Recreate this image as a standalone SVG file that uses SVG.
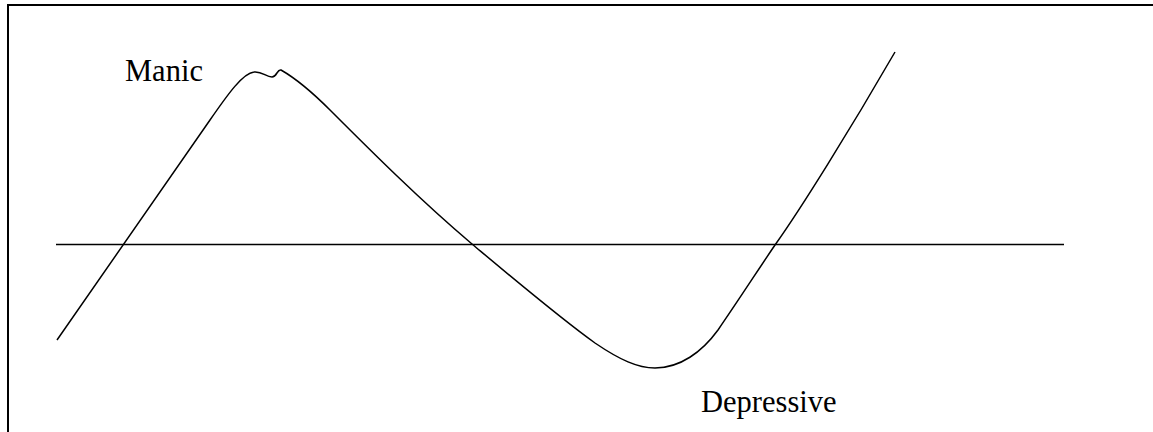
<svg xmlns="http://www.w3.org/2000/svg" width="1153" height="432" viewBox="0 0 1153 432">
<style>
.ln{fill:none;stroke:#000;stroke-width:1.5}
.fr{fill:none;stroke:#000;stroke-width:2}
.lb{font-family:"Liberation Serif","Times New Roman",serif;font-size:30.5px;fill:#000}
</style>
<rect width="1153" height="432" fill="#fff"/>
<g id="frame">
<path class="fr" d="M8,432 V5 H1153"/>
</g>
<g id="axis">
<line class="ln" x1="56" y1="244.5" x2="1064" y2="244.5"/>
</g>
<g id="curve">
<path class="ln" d="M57,340 L210,120 C228,94 243,73 254,72 C262,71 266,77 272,77 C277,77 277,69 281,70 C295,78 312,92 330,110 C370,150 420,200 472,244 C515,280 560,318 595,343 C620,360 638,368 655,368 C680,368 702,352 718,330 C740,298 758,270 775,245 C800,210 850,130 895,52"/>
</g>
<g id="manic">
<text class="lb" x="125" y="81">Manic</text>
</g>
<g id="depressive">
<text class="lb" x="701" y="412">Depressive</text>
</g>
</svg>
